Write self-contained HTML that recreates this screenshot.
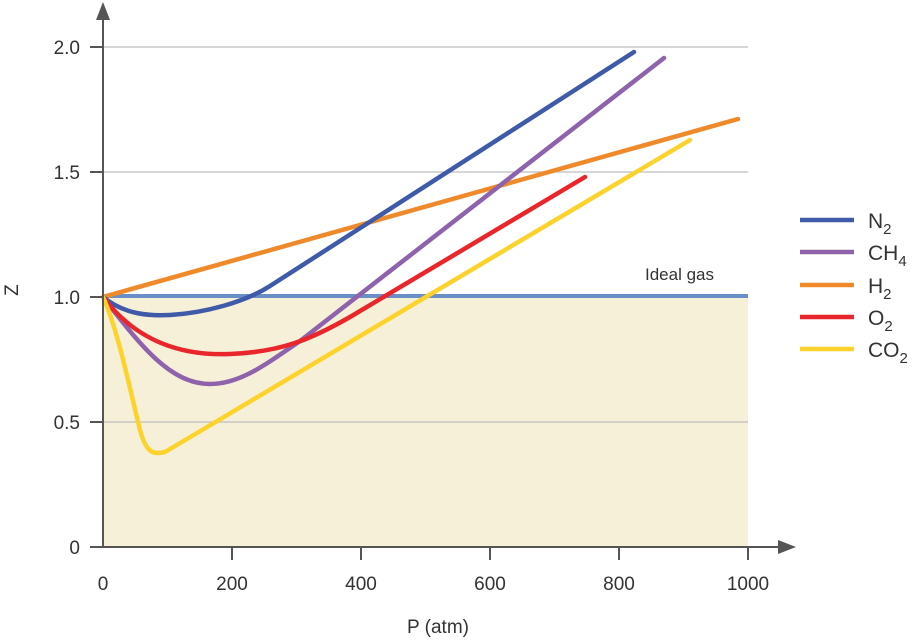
<!DOCTYPE html><html><head><style>body{margin:0;background:#fff}svg{display:block}text{font-family:"Liberation Sans",sans-serif;fill:#333}</style></head><body>
<svg width="917" height="641" viewBox="0 0 917 641">
<rect x="103" y="297" width="645" height="250" fill="#f6f0d8"/>
<g stroke="#bdbdbd" stroke-width="1.2"><line x1="103" y1="47" x2="748" y2="47"/><line x1="103" y1="172" x2="748" y2="172"/><line x1="103" y1="422" x2="748" y2="422"/></g>
<line x1="103" y1="296" x2="748" y2="296" stroke="#6a8fc8" stroke-width="4"/>
<g fill="none" stroke-width="4.5" stroke-linecap="round" stroke-linejoin="round">
<path d="M103 297 L738 119" stroke="#f0892a"/>
<path d="M103 297 C125 315 150 316 170 315 C205 313 245 302 270 286 L634 52" stroke="#3f5aa8"/>
<path d="M103 297 C140 345 170 384 210 384 C240 384 265 365 300 341 L664 58" stroke="#8e63ab"/>
<path d="M103 297 C135 340 180 356 230 354 C280 352 310 340 350 317 L585 177" stroke="#e8262c"/>
<path d="M103 297 C118 330 130 390 140 430 C146 452 152 455 165 452 L690 140" stroke="#fcd32c"/>
</g>
<g stroke="#555" stroke-width="2" fill="#555">
<line x1="103" y1="18" x2="103" y2="547"/><polygon points="96,20 110,20 103,2" stroke="none"/>
<line x1="103" y1="547" x2="780" y2="547"/><polygon points="778,540 778,554 796,547" stroke="none"/>
<line x1="90" y1="47" x2="103" y2="47"/><line x1="90" y1="172" x2="103" y2="172"/><line x1="90" y1="297" x2="103" y2="297"/><line x1="90" y1="422" x2="103" y2="422"/><line x1="90" y1="547" x2="103" y2="547"/>
<line x1="232" y1="547" x2="232" y2="560"/><line x1="361" y1="547" x2="361" y2="560"/><line x1="490" y1="547" x2="490" y2="560"/><line x1="619" y1="547" x2="619" y2="560"/><line x1="748" y1="547" x2="748" y2="560"/>
</g>
<g font-size="19" text-anchor="end"><text x="80" y="54">2.0</text><text x="80" y="179">1.5</text><text x="80" y="304">1.0</text><text x="80" y="429">0.5</text><text x="80" y="554">0</text></g>
<g font-size="19" text-anchor="middle"><text x="103" y="590">0</text><text x="232" y="590">200</text><text x="361" y="590">400</text><text x="490" y="590">600</text><text x="619" y="590">800</text><text x="748" y="590">1000</text>
<text x="438" y="633">P (atm)</text><text x="18" y="290" transform="rotate(-90 18 290)">Z</text></g>
<text x="645" y="280" font-size="17">Ideal gas</text>
<g stroke-width="4.5"><line x1="800" y1="220" x2="854" y2="220" stroke="#3f5aa8"/><line x1="800" y1="252" x2="854" y2="252" stroke="#8e63ab"/><line x1="800" y1="285" x2="854" y2="285" stroke="#f0892a"/><line x1="800" y1="317" x2="854" y2="317" stroke="#e8262c"/><line x1="800" y1="349" x2="854" y2="349" stroke="#fcd32c"/></g>
<g font-size="21"><text x="868" y="228">N<tspan font-size="15" dy="6">2</tspan></text><text x="868" y="260">CH<tspan font-size="15" dy="6">4</tspan></text><text x="868" y="293">H<tspan font-size="15" dy="6">2</tspan></text><text x="868" y="325">O<tspan font-size="15" dy="6">2</tspan></text><text x="868" y="357">CO<tspan font-size="15" dy="6">2</tspan></text></g>
</svg></body></html>
